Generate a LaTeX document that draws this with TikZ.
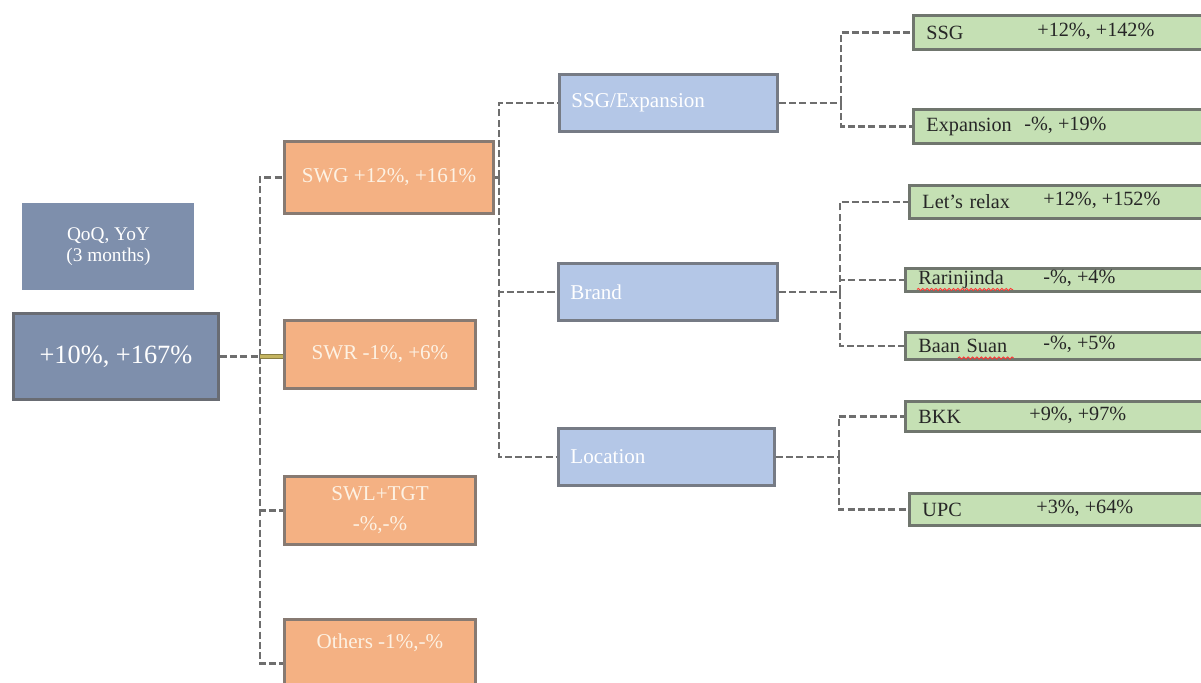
\documentclass[tikz,border=0pt]{standalone}
\usepackage{fontspec}
\setmainfont{Liberation Serif}
\usetikzlibrary{decorations.pathmorphing,shadows}
\definecolor{slate}{RGB}{126,143,172}
\definecolor{slateedge}{RGB}{105,108,115}
\definecolor{peach}{RGB}{244,177,131}
\definecolor{peachedge}{RGB}{135,122,114}
\definecolor{peachtext}{RGB}{253,242,228}
\definecolor{sky}{RGB}{180,199,231}
\definecolor{skyedge}{RGB}{118,123,133}
\definecolor{leaf}{RGB}{197,224,180}
\definecolor{leafedge}{RGB}{112,118,110}
\definecolor{linegray}{RGB}{110,110,110}
\definecolor{khaki}{RGB}{196,180,96}
\begin{document}
\begin{tikzpicture}[x=0.02cm,y=-0.02cm,
    box/.style={rectangle, anchor=north west, line width=1.7pt},
    rootbox/.style={box, fill=slate, draw=slateedge, text=white},
    orangebox/.style={box, fill=peach, draw=peachedge, text=peachtext,
        font=\fontsize{12}{17}\selectfont, align=center},
    bluebox/.style={box, fill=sky, draw=skyedge, text=white, inner xsep=0.24cm,
        minimum height=1.14cm, align=left, font=\fontsize{12}{14}\selectfont},
    greenbox/.style={box, fill=leaf, draw=leafedge, text=black!85, inner xsep=0.26cm,
        inner ysep=0pt, text width=5.5cm, align=left, font=\fontsize{11.5}{13}\selectfont},
    valtext/.style={anchor=west, inner sep=0pt, text=black!85, font=\fontsize{11.5}{13}\selectfont},
    dashline/.style={draw=linegray, line width=1.25pt, dash pattern=on 4pt off 1.8pt}]
    \useasboundingbox (0,0) rectangle (1201,683);

    % left side
    \node[box, fill=slate, draw=none, text=white, minimum width=3.44cm, minimum height=1.74cm,
        align=center, font=\fontsize{11}{12}\selectfont] (qoq) at (21,202) {QoQ, YoY\\(3 months)};
    \node[rootbox, minimum width=4.1cm, minimum height=1.72cm, font=\fontsize{15}{17}\selectfont,
        drop shadow={opacity=0.25, shadow xshift=0.6pt, shadow yshift=-0.6pt}] (root) at (12,312) {+10\%, +167\%};

    % second level
    \node[orangebox, minimum width=4.18cm, minimum height=1.44cm] (swg) at (283,140) {SWG +12\%, +161\%};
    \node[orangebox, minimum width=3.82cm, minimum height=1.36cm] (swr) at (283,319) {SWR -1\%, +6\%};
    \node[orangebox, minimum width=3.82cm, minimum height=1.36cm] (swl) at (283,475) {SWL+TGT\\-\%,-\%};
    \node[orangebox, minimum width=3.82cm, inner ysep=0.1cm, text height=0.48cm, text depth=1.08cm] (oth) at (283,618) {Others -1\%,-\%};

    % third level
    \node[bluebox, text width=3.88cm] (ssge) at (558,73) {SSG/Expansion};
    \node[bluebox, text width=3.9cm] (brand) at (557,262) {Brand};
    \node[bluebox, text width=3.84cm] (loc) at (557,427) {Location};

    % leaves
    \foreach \nm/\x/\y/\h/\txt/\vx/\val in {
        gssg/912/14/0.68/SSG/1037/{+12\%, +142\%},
        gexp/912/108/0.68/Expansion/1024/{-\%, +19\%},
        grelax/908/184/0.66/Let's relax/1043/{+12\%, +152\%},
        grar/904/267/0.46/Rarinjinda/1043/{-\%, +4\%},
        gbaan/904/331/0.54/Baan Suan/1043/{-\%, +5\%},
        gbkk/904/400/0.6/BKK/1029/{+9\%, +97\%},
        gupc/908/492/0.64/UPC/1036/{+3\%, +64\%}} {
        \node[greenbox, minimum height=\h cm] (\nm) at (\x,\y) {\txt};
        \node[valtext] at (\vx,\y+\h*25) {\val};
    }

    % spelling marks
    \draw[red!80, line width=0.5pt, decorate, decoration={snake, amplitude=0.6pt, segment length=2.5pt}]
        ([xshift=0.26cm, yshift=0.07cm]grar.south west) -- ++(96,0);
    \draw[red!80, line width=0.5pt, decorate, decoration={snake, amplitude=0.6pt, segment length=2.5pt}]
        ([xshift=1.08cm, yshift=0.06cm]gbaan.south west) -- ++(56,0);

    % connectors
    \path (root.east) -- ++(40,0) coordinate (t1);
    \path (swg.east) -- ++(4,0) coordinate (t2);
    \path (ssge.east) -- ++(62,0) coordinate (t3);
    \path (brand.east) -- ++(61,0) coordinate (t4);
    \path (loc.east) -- ++(63,0) coordinate (t5);
    \draw[dashline] (root.east) -- (t1);
    \draw[dashline] (t1) |- (swg.west);
    \draw[dashline] (t1) |- (swl.west);
    \draw[dashline] (t1) |- (oth.west);
    \draw[line width=3pt, draw=khaki!70!black] (t1) -- (t1 -| swr.west);
    \draw[line width=1.6pt, draw=khaki] (t1) -- (t1 -| swr.west);
    \draw[dashline] (swg.east) -- (t2);
    \foreach \n in {ssge,brand,loc}
        \draw[dashline] (t2) |- (\n.west);
    \draw[dashline] (ssge.east) -- (t3);
    \foreach \n in {gssg,gexp}
        \draw[dashline] (t3) |- (\n.west);
    \draw[dashline] (brand.east) -- (t4);
    \foreach \n in {grelax,grar,gbaan}
        \draw[dashline] (t4) |- (\n.west);
    \draw[dashline] (loc.east) -- (t5);
    \foreach \n in {gbkk,gupc}
        \draw[dashline] (t5) |- (\n.west);
\end{tikzpicture}
\end{document}
